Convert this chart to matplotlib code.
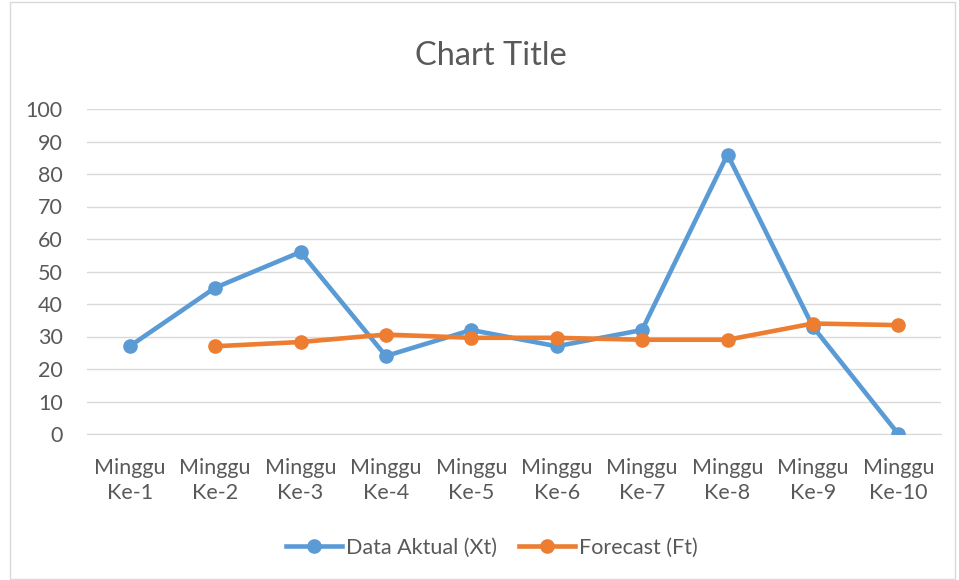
import matplotlib
matplotlib.use("Agg")
import matplotlib.pyplot as plt
from matplotlib.patches import Rectangle
import numpy as np

categories = ["Minggu\nKe-1", "Minggu\nKe-2", "Minggu\nKe-3", "Minggu\nKe-4", "Minggu\nKe-5",
              "Minggu\nKe-6", "Minggu\nKe-7", "Minggu\nKe-8", "Minggu\nKe-9", "Minggu\nKe-10"]
aktual = [27, 45, 56, 24, 32, 27, 32, 86, 33, 0]
forecast = [np.nan, 27, 28.3, 30.6, 29.6, 29.6, 29.0, 29.0, 34.0, 33.5]
yticks = [0, 10, 20, 30, 40, 50, 60, 70, 80, 90, 100]

plt.rcParams['font.family'] = ['Lato', 'DejaVu Sans']
txt = '#595959'

fig = plt.figure(figsize=(9.59, 5.80), dpi=100)
fig.patches.append(Rectangle((10/959, 0.002), 0.985, 0.994, transform=fig.transFigure,
                             fill=False, edgecolor='#D9D9D9', linewidth=1))
ax = fig.add_axes([87/959, 1-434/580, 854/959, 325/580])
x = np.arange(len(categories))
ax.plot(x, aktual, color='#5B9BD5', lw=3.3, marker='o', ms=9.5, label='Data Aktual (Xt)', zorder=3)
ax.plot(x, forecast, color='#ED7D31', lw=3.3, marker='o', ms=9.5, label='Forecast (Ft)', zorder=4)
ax.set_xlim(-0.5, len(categories) - 0.5)
ax.set_ylim(0, 100)
ax.set_yticks(yticks)
ax.set_xticks(x)
ax.set_xticklabels(categories, fontsize=15.5, color=txt, linespacing=1.28)
ax.tick_params(axis='y', labelsize=15.5, colors=txt, length=0, pad=17.5)
ax.tick_params(axis='x', length=0, pad=17.5, colors=txt)
ax.grid(axis='y', color='#D9D9D9', lw=1)
ax.set_axisbelow(True)
for s in ['top', 'right', 'left']:
    ax.spines[s].set_visible(False)
ax.spines['bottom'].set_color('#D9D9D9')
fig.text(491/959, 1-56/580, 'Chart Title', ha='center', va='center', fontsize=23.5, color=txt)
fig.legend(loc='center', bbox_to_anchor=(492/959, 1-548/580), ncol=2, frameon=False,
           fontsize=15.5, labelcolor=txt, handlelength=2.6, handletextpad=0.2, columnspacing=1.0)
fig.savefig('out.png', dpi=100)
